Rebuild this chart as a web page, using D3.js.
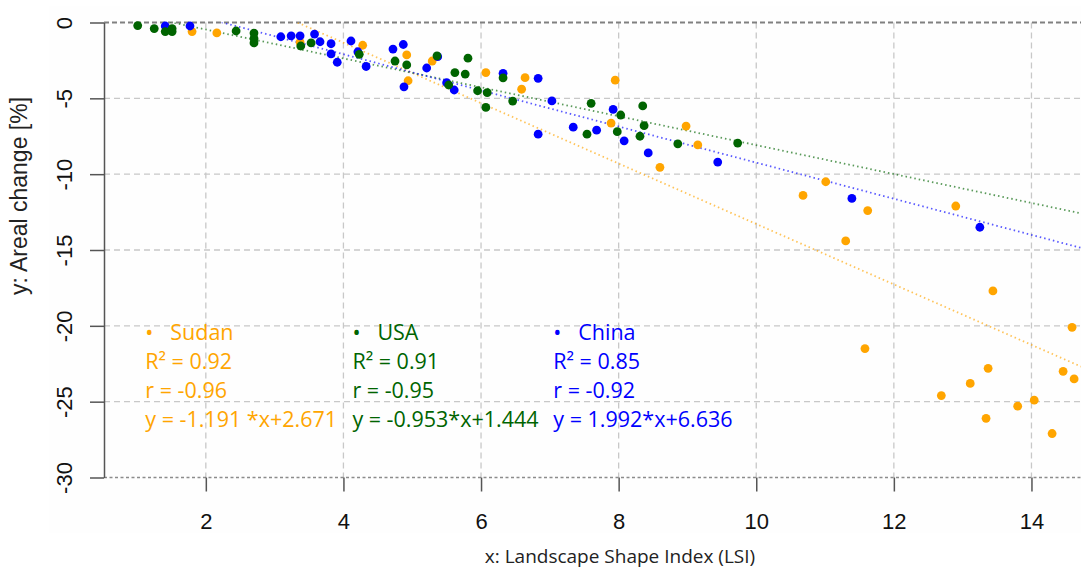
<!DOCTYPE html>
<html>
<head>
<meta charset="utf-8">
<script src="https://cdn.jsdelivr.net/npm/d3@7/dist/d3.min.js"></script>
<style>
  body { margin: 0; background: #fff; }
  svg { display: block; }
</style>
</head>
<body>
<svg width="1081" height="572"></svg>
<script>
// --- data ---
var sudanX = [1.80, 2.16, 3.37, 4.28, 4.92, 4.94, 5.29, 6.07, 6.64, 6.59, 7.95, 7.89, 8.98, 9.15, 8.60, 10.68,
  11.01, 11.62, 11.30, 12.90, 13.44, 11.58, 14.59, 13.37, 13.11, 12.69, 13.34, 13.80, 14.04, 14.30, 14.46, 14.62];
var sudanY = [-0.6, -0.69, -1.3, -1.5, -2.14, -3.84, -2.54, -3.3, -3.64, -4.4, -3.8, -6.63, -6.83, -8.07, -9.55, -11.4,
  -10.5, -12.4, -14.4, -12.1, -17.7, -21.5, -20.1, -22.8, -23.8, -24.6, -26.1, -25.3, -24.9, -27.1, -23.0, -23.5];

var chinaX = [1.41, 1.77, 3.09, 3.24, 3.37, 3.58, 3.66, 3.82, 3.82, 3.91, 4.11, 4.21, 4.33, 4.72, 4.87, 4.88,
  5.21, 5.37, 5.50, 5.61, 6.32, 6.83, 7.03, 7.92, 6.83, 7.34, 7.68, 8.08, 8.43, 9.44, 11.39, 13.25];
var chinaY = [-0.23, -0.23, -0.94, -0.88, -0.88, -0.76, -1.27, -1.4, -2.07, -2.62, -1.22, -1.93, -2.9, -1.75, -1.45, -4.24,
  -3.0, -2.25, -3.97, -4.45, -3.35, -3.68, -5.17, -5.73, -7.36, -6.9, -7.1, -7.8, -8.6, -9.2, -11.6, -13.5];

var usaX = [1.01, 1.25, 1.41, 1.51, 1.51, 2.44, 2.70, 2.70, 2.70, 3.38, 3.53, 4.23, 4.75, 4.92, 5.36, 5.53, 5.62,
  5.77, 5.81, 5.95, 6.09, 6.07, 6.32, 6.46, 7.60, 8.03, 8.35, 7.98, 8.37, 8.31, 7.54, 8.86, 9.73];
var usaY = [-0.2, -0.4, -0.6, -0.6, -0.4, -0.56, -0.7, -1.05, -1.35, -1.55, -1.35, -2.1, -2.54, -2.8, -2.2, -4.12, -3.3,
  -3.4, -2.35, -4.5, -4.63, -5.6, -3.65, -5.18, -5.33, -6.1, -5.5, -7.2, -6.8, -7.5, -7.36, -8.0, -7.95];

// fitted lines as drawn (orange, green, blue)
var fitSlope = [-1.992, -0.953, -1.191];
var fitIntercept = [6.636, 1.444, 2.671];

var countries = ["Sudan", "USA", "China"];
var colors = ["#FFA500", "#006400", "#0000FF"];
var r2Labels = ["R\u00B2 = 0.92", "R\u00B2 = 0.91", "R\u00B2 = 0.85"];
var rLabels = ["r = -0.96", "r = -0.95", "r = -0.92"];
var eqLabels = ["y = -1.191 *x+2.671", "y = -0.953*x+1.444", "y = 1.992*x+6.636"];

var xTicks = [2, 4, 6, 8, 10, 12, 14];
var yTicks = [0, -5, -10, -15, -20, -25, -30];

// --- layout ---
var svg = d3.select("svg"),
  width = +svg.attr("width"),
  height = +svg.attr("height");

var x = d3.scaleLinear().domain([0.52, 14.72]).range([104, 1081]),
  y = d3.scaleLinear().domain([0, -30]).range([22.5, 477.5]);

// plain hyphen minus, like the original
var plain = d => String(d);

// faint panel behind the plot
svg.append("rect")
  .attr("x", 49).attr("y", 6)
  .attr("width", width - 49).attr("height", 527)
  .attr("fill", "#fefefe");

svg.append("clipPath").attr("id", "plotclip")
  .append("rect")
  .attr("x", x.range()[0]).attr("y", y(0))
  .attr("width", x.range()[1] - x.range()[0]).attr("height", y(-30) - y(0));

// grid
var grid = svg.append("g");
grid.selectAll(".vgrid")
  .data(xTicks)
  .enter().append("line")
    .attr("x1", d => x(d)).attr("x2", d => x(d))
    .attr("y1", y(0)).attr("y2", y(-30))
    .attr("stroke", "#c8c8c8")
    .attr("stroke-width", 1.3)
    .attr("stroke-dasharray", "6,4");

grid.selectAll(".hgrid")
  .data(yTicks.slice(1, -1))
  .enter().append("line")
    .attr("x1", x.range()[0]).attr("x2", x.range()[1])
    .attr("y1", d => y(d)).attr("y2", d => y(d))
    .attr("stroke", "#c8c8c8")
    .attr("stroke-width", 1.3)
    .attr("stroke-dasharray", "6,4");

// top and bottom border lines
grid.append("line")
  .attr("x1", x.range()[0]).attr("x2", x.range()[1])
  .attr("y1", y(0)).attr("y2", y(0))
  .attr("stroke", "#808080").attr("stroke-width", 2)
  .attr("stroke-dasharray", "5,3");
grid.append("line")
  .attr("x1", x.range()[0]).attr("x2", x.range()[1])
  .attr("y1", y(-30)).attr("y2", y(-30))
  .attr("stroke", "#8c8c8c").attr("stroke-width", 1.6)
  .attr("stroke-dasharray", "3,2.5");

// y axis
var yAxis = svg.append("g")
  .attr("transform", "translate(" + x.range()[0] + ",0)")
  .call(d3.axisLeft(y).tickValues(yTicks).tickSize(14).tickSizeOuter(0).tickFormat(plain));
yAxis.select(".domain").attr("stroke", "#555").attr("stroke-width", 1.5);
yAxis.selectAll(".tick line").attr("stroke", "#555").attr("stroke-width", 1.5);
yAxis.selectAll(".tick text")
  .attr("transform", "rotate(-90)")
  .attr("x", 0).attr("y", -32).attr("dy", null)
  .style("text-anchor", "middle")
  .style("font-family", "'Liberation Sans', Arial, sans-serif")
  .style("font-size", "22px")
  .attr("fill", "#111");

// x axis (ticks and labels only, no line)
var xAxis = svg.append("g")
  .attr("transform", "translate(0," + y(-30) + ")")
  .call(d3.axisBottom(x).tickValues(xTicks).tickSize(14).tickFormat(plain));
xAxis.select(".domain").remove();
xAxis.selectAll(".tick line").attr("stroke", "#555").attr("stroke-width", 1.5);
xAxis.selectAll(".tick text")
  .attr("y", 51).attr("dy", null)
  .style("font-family", "'Liberation Sans', Arial, sans-serif")
  .style("font-size", "22px")
  .attr("fill", "#111");

// axis titles
svg.append("text")
  .attr("transform", "translate(27,196) rotate(-90)")
  .style("text-anchor", "middle")
  .style("font-family", "'Liberation Sans', Arial, sans-serif")
  .style("font-size", "23px")
  .attr("fill", "#222")
  .text("y: Areal change [%]");

svg.append("text")
  .attr("x", 620).attr("y", 563)
  .style("text-anchor", "middle")
  .style("font-family", "'Open Sans', sans-serif")
  .style("font-size", "19px")
  .attr("fill", "#222")
  .text("x: Landscape Shape Index (LSI)");

// regression lines
var lines = svg.append("g").attr("clip-path", "url(#plotclip)");
lines.selectAll(".fit")
  .data(fitSlope)
  .enter().append("path")
    .attr("fill", "none")
    .attr("stroke", (d, i) => colors[i])
    .attr("stroke-opacity", 0.65)
    .attr("stroke-width", 1.8)
    .attr("stroke-dasharray", "1.5,3")
    .attr("d", (d, i) => d3.line()
      .x(v => x(v))
      .y(v => y(d * v + fitIntercept[i]))(x.domain()));

// points: Sudan, China, USA
var series = [
  {xs: sudanX, ys: sudanY, c: colors[0]},
  {xs: chinaX, ys: chinaY, c: colors[2]},
  {xs: usaX, ys: usaY, c: colors[1]}
];
series.forEach(s => {
  svg.append("g").selectAll("circle")
    .data(s.xs)
    .enter().append("circle")
      .attr("cx", d => x(d))
      .attr("cy", (d, i) => y(s.ys[i]))
      .attr("r", 4.4)
      .attr("fill", s.c);
});

// legend blocks
var legX = [1.12, 4.13, 7.05];
var legend = svg.append("g")
  .style("font-family", "'Open Sans', sans-serif")
  .style("font-size", "21.5px");
countries.forEach((name, i) => {
  var lx = x(legX[i]);
  legend.append("text").attr("x", lx).attr("y", 340).attr("fill", colors[i]).text("\u2022");
  legend.append("text").attr("x", lx + 25).attr("y", 340).attr("fill", colors[i]).text(name);
  legend.append("text").attr("x", lx).attr("y", 369).attr("fill", colors[i]).text(r2Labels[i]);
  legend.append("text").attr("x", lx).attr("y", 398).attr("fill", colors[i]).text(rLabels[i]);
  legend.append("text").attr("x", lx).attr("y", 427).attr("fill", colors[i]).text(eqLabels[i]);
});
</script>
</body>
</html>
